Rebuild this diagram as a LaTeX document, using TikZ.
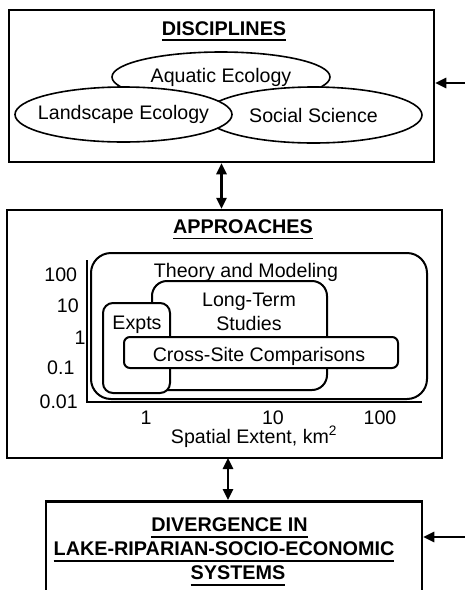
\documentclass[tikz,border=0pt]{standalone}
\usepackage{fontspec}
\setmainfont{Liberation Sans}
\usetikzlibrary{arrows.meta, positioning, shapes.geometric}

\newcommand{\titleul}[1]{\setbox0\hbox{#1}\rlap{\usebox0}\raisebox{-6pt}{\rule{\wd0}{1.8pt}}}

\begin{document}
\begin{tikzpicture}[
  x=1pt, y=-1pt,
  font=\fontsize{19.6}{24}\selectfont,
  frame/.style={draw, line width=2.5pt, inner sep=0pt},
  disc/.style={draw, ellipse, fill=white, line width=1.6pt, inner xsep=-12pt, inner ysep=0pt},
  approach/.style={draw, fill=white, line width=2pt, inner sep=0pt},
  title/.style={font=\fontsize{19.8}{24}\selectfont\bfseries, align=center},
  arrow/.style={-{Triangle[length=11pt,width=10pt]}, line width=2.5pt},
  dblarrow/.style={{Triangle[length=11pt,width=10pt]}-{Triangle[length=11pt,width=10pt]}, line width=2.5pt}
]
\clip (0,0) rectangle (465,590);

% three main boxes
\node[frame, minimum width=425pt, minimum height=152pt] (disciplines) at (221.5,86) {};
\node[frame, minimum width=435pt, minimum height=248pt] (approaches) at (224.5,334) {};
\node[frame, minimum width=376pt, minimum height=120pt, anchor=north] (divergence) at (234,500) {};

\node[title, anchor=base] (disctitle) at (224,35) {\titleul{DISCIPLINES}};
\node[title, anchor=base] (apprtitle) at (243,233.3) {\titleul{APPROACHES}};
\node[title] (divtitle) at (224,552) {\hspace*{11pt}\titleul{DIVERGENCE IN}\\\titleul{LAKE-RIPARIAN-SOCIO-ECONOMIC}\\\hspace*{28pt}\titleul{SYSTEMS}};

% disciplines
\node[disc, minimum width=218pt, minimum height=50pt] (aquatic) at (221,77) {Aquatic Ecology};
\node[disc, minimum width=217pt, minimum height=56pt] (social) at (313.5,115) {Social Science};
\node[disc, minimum width=217pt, minimum height=55pt] (landscape) at (123.5,114.5) {Landscape Ecology};

% scale axes
\draw[line width=2pt] (87,260) -- (87,402) -- (422,402);
\foreach \x/\y/\val in {60.8/281.7/100, 67.8/312.7/10, 80/344/1, 60.8/374/0.1, 58.7/408.3/0.01}
  \node[anchor=base, inner sep=0pt] at (\x,\y) {\val};
\foreach \x/\val in {146/1, 273/10, 380/100}
  \node[anchor=base, inner sep=0pt] at (\x,424.5) {\val};
\node[anchor=base, inner sep=0pt] (xlabel) at (254,443) {Spatial Extent, km\textsuperscript{2}};

% approaches
\node[approach, rounded corners=20pt, minimum width=336pt, minimum height=146pt] (theory) at (259,326) {};
\node[anchor=base, inner sep=0pt] (theorytext) at (246,277.3) {Theory and Modeling};
\node[approach, rounded corners=15pt, minimum width=175pt, minimum height=109pt] (longterm) at (239.5,335.5) {};
\node[align=center, inner sep=0pt] (longtext) at (249,311.7) {Long-Term\\Studies};
\node[approach, rounded corners=10pt, minimum width=67pt, minimum height=90pt] (expts) at (136.5,348) {};
\node[anchor=base, inner sep=0pt] (exptstext) at (137,329) {Expts};
\node[approach, rounded corners=6pt, minimum width=274pt, minimum height=31pt] (crosssite) at (261,352.5) {};
\node[anchor=base, inner sep=0pt] (crosstext) at (259,361.7) {Cross-Site Comparisons};

% connectors
\coordinate (feed1) at (465,83);
\coordinate (feed2) at (465,537);
\coordinate (link2) at (228,458);
\draw[arrow] (feed1) -- (feed1 -| disciplines.east);
\draw[arrow] (feed2) -- (feed2 -| divergence.east);
\draw[dblarrow] (disciplines.south) -- (disciplines.south |- approaches.north);
\draw[dblarrow] (link2) -- (link2 |- divergence.north);

\end{tikzpicture}
\end{document}
